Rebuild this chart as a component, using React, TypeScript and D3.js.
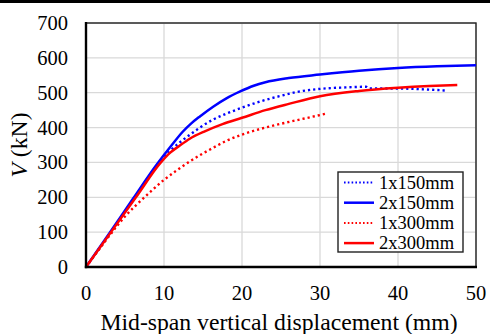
import React from "react";
import * as d3 from "d3";

// Load–displacement curves, displacement in mm and shear force V in kN
const disp1x150 = [0, 3.2, 6.3, 9.4, 10.7, 12, 13.3, 14.6, 16.3, 18, 20, 22.5, 24.8, 27, 30, 33, 35.9, 36.3, 40, 43, 46.3];
const load1x150 = [0, 100, 200, 300, 331, 357, 379, 400, 423, 440, 457, 476, 490, 502, 511, 515, 517, 512, 512, 510, 506];

const disp2x150 = [0, 3, 6, 9, 11, 12.4, 13.5, 14.6, 16.3, 18, 19.7, 21.5, 23, 26, 30, 35, 40, 45, 50];
const load2x150 = [0, 97, 195, 292, 350, 388, 412, 432, 460, 484, 503, 520, 530, 542, 552, 563, 571, 576, 579];

const disp1x300 = [0, 2.5, 5, 7.5, 10, 11.5, 13.1, 14.7, 16.3, 18, 20, 22.5, 25, 28, 30.8];
const load1x300 = [0, 75, 145, 200, 250, 275, 300, 322, 342, 362, 380, 397, 411, 426, 440];

const disp2x300 = [0, 3.2, 6.4, 9.6, 10.8, 12, 13.3, 15.3, 17.5, 20, 23, 26, 30, 35, 40, 44, 47.6];
const load2x300 = [0, 100, 200, 300, 328, 348, 368, 390, 410, 428, 450, 468, 490, 505, 514, 519, 522];

const seriesNames = ["1x150mm", "2x150mm", "1x300mm", "2x300mm"];
const seriesColors = ["#0000ff", "#0000ff", "#ff0000", "#ff0000"];
const seriesDotted = [true, false, true, false];

const xTicks = [0, 10, 20, 30, 40, 50];
const yTicks = [0, 100, 200, 300, 400, 500, 600, 700];

const xTitle = "Mid-span vertical displacement (mm)";

const W = 490;
const H = 334;
const left = 86;
const right = 476;
const top = 23;
const bottom = 267;

const serif = "'Liberation Serif', 'Times New Roman', 'DejaVu Serif', serif";

export default function App() {
  const x = d3.scaleLinear().domain([0, 50]).range([left, right]);
  const y = d3.scaleLinear().domain([0, 700]).range([bottom, top]);

  const series = [
    [disp1x150, load1x150],
    [disp2x150, load2x150],
    [disp1x300, load1x300],
    [disp2x300, load2x300],
  ].map(([xs, ys]) => xs.map((d, i) => [d, ys[i]] as [number, number]));

  const line = d3
    .line<[number, number]>()
    .x((d) => x(d[0]))
    .y((d) => y(d[1]))
    .curve(d3.curveMonotoneX);

  const legX = 338;
  const legY = 172;
  const legRow = 20.2;

  return (
    <>
      <style>{`body{margin:0} svg text{font-family:${serif}}`}</style>
      <svg width={W} height={H} style={{ display: "block", background: "#fff", fontFamily: serif }}>
        <rect x={0} y={0} width={W} height={3} fill="#000" />

        {/* gridlines */}
        {xTicks.slice(1).map((t) => (
          <line key={"gx" + t} x1={x(t)} x2={x(t)} y1={top} y2={bottom} stroke="#d9d9d9" strokeWidth={1.3} />
        ))}
        {yTicks.slice(1).map((t) => (
          <line key={"gy" + t} x1={left} x2={right} y1={y(t)} y2={y(t)} stroke="#d9d9d9" strokeWidth={1.3} />
        ))}

        {/* plot frame */}
        <rect x={left} y={top} width={right - left} height={bottom - top} fill="none" stroke="#222" strokeWidth={1.4} />

        {/* curves */}
        {series.map((pts, i) => (
          <path
            key={seriesNames[i]}
            d={line(pts) || ""}
            fill="none"
            stroke={seriesColors[i]}
            strokeWidth={seriesDotted[i] ? 2.4 : 2.5}
            strokeDasharray={seriesDotted[i] ? "2.2 3" : undefined}
          />
        ))}

        {/* axis lines */}
        <line x1={left} x2={left} y1={top - 1} y2={bottom + 1.2} stroke="#000" strokeWidth={2.4} />
        <line x1={left - 1.2} x2={right + 1} y1={bottom} y2={bottom} stroke="#000" strokeWidth={2.4} />

        {/* tick labels */}
        {yTicks.map((t) => (
          <text key={"yl" + t} x={68} y={y(t)} dy="0.34em" textAnchor="end" fontSize={20.5} fill="#000">
            {t}
          </text>
        ))}
        {xTicks.map((t) => (
          <text key={"xl" + t} x={x(t)} y={300} textAnchor="middle" fontSize={20.5} fill="#000">
            {t}
          </text>
        ))}

        {/* axis titles */}
        <text x={279} y={330} textAnchor="middle" fontSize={23.7} fill="#000">
          {xTitle}
        </text>
        <text transform="translate(27,145) rotate(-90)" textAnchor="middle" fontSize={23.7} fill="#000">
          <tspan fontStyle="italic">V</tspan>
          <tspan> (kN)</tspan>
        </text>

        {/* legend */}
        <rect x={legX} y={legY} width={125} height={80} fill="#fff" stroke="#222" strokeWidth={1.4} />
        {seriesNames.map((name, i) => {
          const cy = legY + 10.5 + i * legRow;
          return (
            <g key={"lg" + name}>
              <line
                x1={legX + 6}
                x2={legX + 36}
                y1={cy}
                y2={cy}
                stroke={seriesColors[i]}
                strokeWidth={seriesDotted[i] ? 2 : 2.5}
                strokeDasharray={seriesDotted[i] ? "1.6 2.2" : undefined}
              />
              <text x={legX + 41} y={cy} dy="0.34em" fontSize={18.5} fill="#000">
                {name}
              </text>
            </g>
          );
        })}
      </svg>
    </>
  );
}
